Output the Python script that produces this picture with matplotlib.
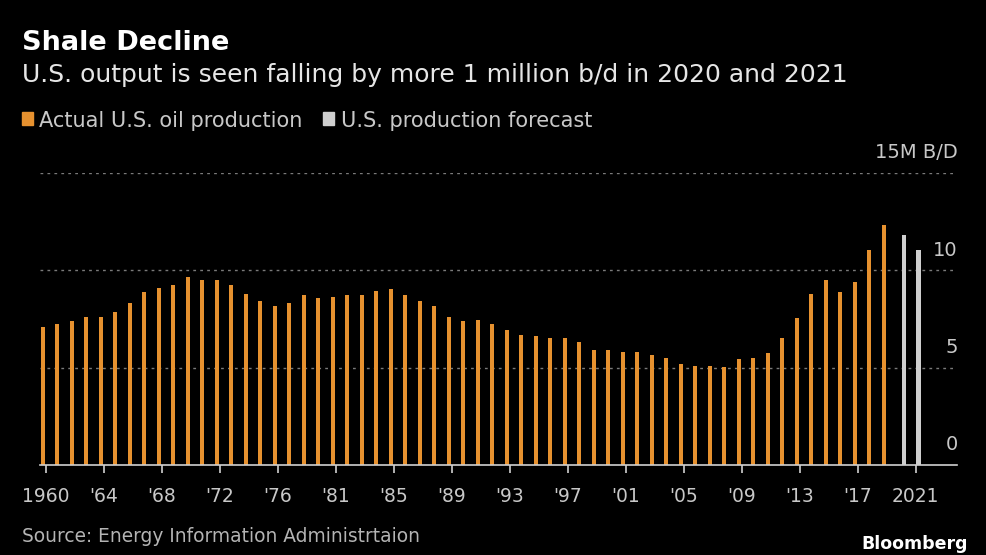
import numpy as np
import matplotlib
matplotlib.use("Agg")
import matplotlib.pyplot as plt
import matplotlib.transforms as mtransforms

# actual production, million b/d (the source series skips 1980)
actual_years = list(range(1960, 1980)) + list(range(1981, 2020))
actual = [7.07, 7.24, 7.38, 7.62, 7.62, 7.86, 8.32, 8.87, 9.11, 9.26,
          9.64, 9.50, 9.50, 9.26, 8.80, 8.41, 8.17, 8.32, 8.71, 8.56,
          8.63, 8.71, 8.71, 8.94, 9.02, 8.71, 8.41, 8.17, 7.62, 7.38,
          7.46, 7.22, 6.92, 6.68, 6.61, 6.52, 6.52, 6.30, 5.91, 5.91,
          5.82, 5.82, 5.67, 5.50, 5.19, 5.10, 5.10, 5.03, 5.43, 5.50,
          5.74, 6.51, 7.53, 8.78, 9.49, 8.87, 9.40, 11.06, 12.31]
forecast_years = [2020, 2021]
forecast = [11.83, 11.06]

tick_labels = ["1960", "'64", "'68", "'72", "'76", "'81", "'85", "'89", "'93",
               "'97", "'01", "'05", "'09", "'13", "'17", "2021"]
y_ticks = [0, 5, 10, 15]
y_labels = ["0", "5", "10", "15M B/D"]

ORANGE = "#e6912f"
GRAY = "#cfcfcf"

fig = plt.figure(figsize=(9.87, 5.55), dpi=100, facecolor="black")
ax = fig.add_axes([0.0405, 0.1622, 0.929, 0.5261], facecolor="black")

x_act = np.arange(len(actual))
x_fc = len(actual) + np.arange(len(forecast)) + 0.4
ax.bar(x_act, actual, width=0.3, color=ORANGE, zorder=3)
ax.bar(x_fc, forecast, width=0.3, color=GRAY, zorder=3)

ax.set_xlim(-0.19, 63.05)
ax.set_ylim(0, 15)

for s in ["top", "right", "left"]:
    ax.spines[s].set_visible(False)
ax.spines["bottom"].set_color("#d0d0d0")
ax.spines["bottom"].set_linewidth(1.2)
ax.spines["bottom"].set_zorder(4)

for v in y_ticks[1:]:
    ax.axhline(v, color="#7a7a7a", lw=1, ls=(0, (2, 3)), zorder=1)

ax.set_yticks([])
ax.set_xticks(np.arange(0, 61, 4) + 0.2)
ax.set_xticklabels(tick_labels)
ax.tick_params(axis="x", colors="#d0d0d0", length=6, width=1.2, pad=10,
               labelsize=13.5, labelcolor="#c8c8c8")

trans = mtransforms.blended_transform_factory(ax.transAxes, ax.transData)
for v, lab in zip(y_ticks, y_labels):
    ax.text(1.001, v + 0.55, lab, transform=trans, ha="right", va="bottom",
            color="#c8c8c8", fontsize=14)

fig.text(0.022, 0.91, "Shale Decline", color="white", fontsize=19.5,
         fontweight="bold", va="baseline")
fig.text(0.022, 0.852, "U.S. output is seen falling by more 1 million b/d in 2020 and 2021",
         color="#e6e6e6", fontsize=18, va="baseline")

# legend
fig.patches.append(plt.Rectangle((0.0225, 0.775), 0.011, 0.0234, color=ORANGE,
                                 transform=fig.transFigure, figure=fig))
fig.text(0.040, 0.771, "Actual U.S. oil production", color="#c8c8c8",
         fontsize=15, va="baseline")
fig.patches.append(plt.Rectangle((0.327, 0.775), 0.011, 0.0234, color=GRAY,
                                 transform=fig.transFigure, figure=fig))
fig.text(0.345, 0.771, "U.S. production forecast", color="#c8c8c8",
         fontsize=15, va="baseline")

fig.text(0.022, 0.023, "Source: Energy Information Administrtaion",
         color="#b4b4b4", fontsize=13.4, va="baseline")
fig.text(0.981, 0.011, "Bloomberg", color="white", fontsize=12.5,
         fontweight="bold", ha="right", va="baseline")

fig.savefig("out.png", dpi=100, facecolor="black")
